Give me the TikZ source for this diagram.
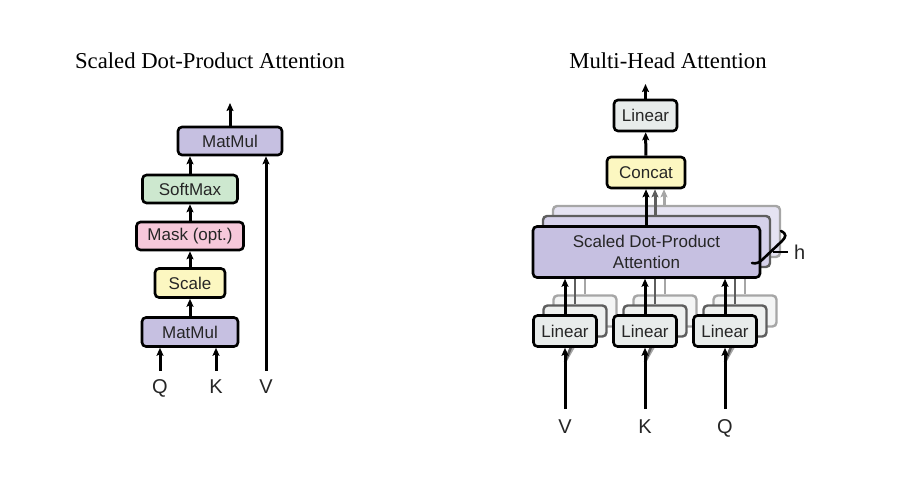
\documentclass[tikz,border=0pt]{standalone}
\usepackage{fontspec}
\setmainfont{Liberation Serif}
\newfontfamily\boxfont{Liberation Sans}
\usetikzlibrary{arrows.meta}
\definecolor{txt}{HTML}{262626}
\definecolor{lav}{HTML}{C6C0E1}
\definecolor{lavA}{HTML}{D5D1EA}
\definecolor{lavB}{HTML}{E5E3F2}
\definecolor{grn}{HTML}{CDE8CF}
\definecolor{pnk}{HTML}{F6C8DA}
\definecolor{yel}{HTML}{FCF7C1}
\definecolor{lin}{HTML}{E8ECEB}
\definecolor{linA}{HTML}{EEF0EF}
\definecolor{linB}{HTML}{F4F5F5}
\definecolor{gA}{HTML}{5E5E5E}
\definecolor{gB}{HTML}{A6A6A6}
\tikzset{
  box/.style={draw=black, line width=2.6pt, rounded corners=4pt, inner sep=0pt,
    font=\boxfont\fontsize{17}{21}\selectfont, text=txt, align=center},
  ghostA/.style={box, draw=gA, line width=2.4pt},
  ghostB/.style={box, draw=gB, line width=2.4pt},
  arr/.style={line width=3pt, -{Stealth[length=8pt,width=7pt,inset=1.5pt]}},
  arrA/.style={arr, draw=gA},
  arrB/.style={arr, draw=gB},
  lineA/.style={line width=2.6pt, draw=gA},
  lineB/.style={line width=2.6pt, draw=gB},
  lbl/.style={font=\boxfont\fontsize{20}{22}\selectfont, text=txt, inner sep=0pt, anchor=base},
  ttl/.style={font=\fontsize{22.7}{26}\selectfont, anchor=base, inner sep=0pt}
}
\begin{document}
\begin{tikzpicture}[x=1pt,y=-1pt]
\useasboundingbox (0,0) rectangle (900,478);
% ---------------- Titles
\node[ttl] (t1) at (210,69) {Scaled Dot-Product Attention};
\node[ttl] (t2) at (668,69) {Multi-Head Attention};
% ---------------- Left diagram
\node[box, fill=lav, minimum width=104pt, minimum height=28pt] (mm1) at (230,141) {MatMul};
\node[box, fill=grn, minimum width=95pt, minimum height=28pt] (sm) at (190,189) {SoftMax};
\node[box, fill=pnk, minimum width=107pt, minimum height=28pt] (mask) at (190,236) {Mask (opt.)};
\node[box, fill=yel, minimum width=70pt, minimum height=29pt] (scale) at (190,283) {Scale};
\node[box, fill=lav, minimum width=96pt, minimum height=29pt] (mm2) at (190,332) {MatMul};
\node[lbl] (q1) at (160,393) {Q};
\node[lbl] (k1) at (216,393) {K};
\node[lbl] (v1) at (266,393) {V};
\coordinate (out1) at (230,103);
\coordinate (qi) at (160,371);
\coordinate (ki) at (216,371);
\coordinate (vi) at (266,371);
\draw[arr] (mm2) -- (scale);
\draw[arr] (scale) -- (mask);
\draw[arr] (mask) -- (sm);
\draw[arr] (sm.north) -- (sm.north |- mm1.south);
\draw[arr] (mm1) -- (out1);
\draw[arr] (qi) -- (qi |- mm2.south);
\draw[arr] (ki) -- (ki |- mm2.south);
\draw[arr] (vi) -- (vi |- mm1.south);
% ---------------- Right diagram
% input shadow lines
\foreach \x/\n in {565/v, 645/k, 725/q}{
  \coordinate (s\n) at (\x,362);
  \draw[lineB] (s\n) -- (\x+20,327);
  \draw[lineA] (s\n) -- (\x+10,337);
}
% Linear stacks back copies
\foreach \x/\n in {565/v, 645/k, 725/q}{
  \node[ghostB, fill=linB, minimum width=63pt, minimum height=31pt] (lb\n) at (\x+20,311) {};
  \draw[lineB] (lb\n.north) -- ++(0,-40);
  \node[ghostA, fill=linA, minimum width=63pt, minimum height=31pt] (la\n) at (\x+10,321) {};
  \draw[lineA] (la\n.north) -- ++(0,-40);
}
% SDPA stack
\node[ghostB, fill=lavB, minimum width=227pt, minimum height=51pt] (sdB) at (666.5,231.5) {};
\node[ghostA, fill=lavA, minimum width=227pt, minimum height=51pt] (sdA) at (656.5,241.5) {};
\node[box, fill=lav, minimum width=227pt, minimum height=51pt] (sdpa) at (646.5,252) {Scaled Dot-Product\\Attention};
% front Linear boxes
\node[box, fill=lin, minimum width=63pt, minimum height=31pt] (lv) at (565,331) {Linear};
\node[box, fill=lin, minimum width=63pt, minimum height=31pt] (lk) at (645,331) {Linear};
\node[box, fill=lin, minimum width=63pt, minimum height=31pt] (lq) at (725,331) {Linear};
% concat and top linear
\node[box, fill=yel, minimum width=78pt, minimum height=31pt] (cc) at (646,172.5) {Concat};
\node[box, fill=lin, minimum width=63pt, minimum height=31pt] (lt) at (645.5,115.5) {Linear};
\coordinate (out2) at (645.5,84);
% labels
\node[lbl] (v2) at (565,433) {V};
\node[lbl] (k2) at (645,433) {K};
\node[lbl] (q2) at (725,433) {Q};
\coordinate (vi2) at (565,409);
\coordinate (ki2) at (645,409);
\coordinate (qi2) at (725,409);
% arrows
\draw[arr] (vi2) -- (lv);
\draw[arr] (ki2) -- (lk);
\draw[arr] (qi2) -- (lq);
\draw[arr] (lv.north) -- (lv.north |- sdpa.south);
\draw[arr] (lk.north) -- (lk.north |- sdpa.south);
\draw[arr] (lq.north) -- (lq.north |- sdpa.south);
\draw[arrB] (sdB.north -| 664,0) -- (664,0 |- cc.south);
\draw[arrA] (sdA.north -| 655,0) -- (655,0 |- cc.south);
\draw[arr] (sdpa.north -| cc.south) -- (cc.south);
\draw[arr] (cc) -- (lt);
\draw[arr] (lt) -- (out2);
% h bracket
\coordinate (hb1) at (781,231);
\coordinate (hb2) at (752,263);
\draw[line width=2.6pt, line cap=round] (hb1) .. controls (787,234) and (786,237) .. (782,241) -- (763,259) .. controls (759,263) and (756,264) .. (hb2);
\node[lbl, anchor=west] (h) at (794,252) {h};
\draw[line width=1.6pt] (773,252) -- (788,252);
\end{tikzpicture}
\end{document}
